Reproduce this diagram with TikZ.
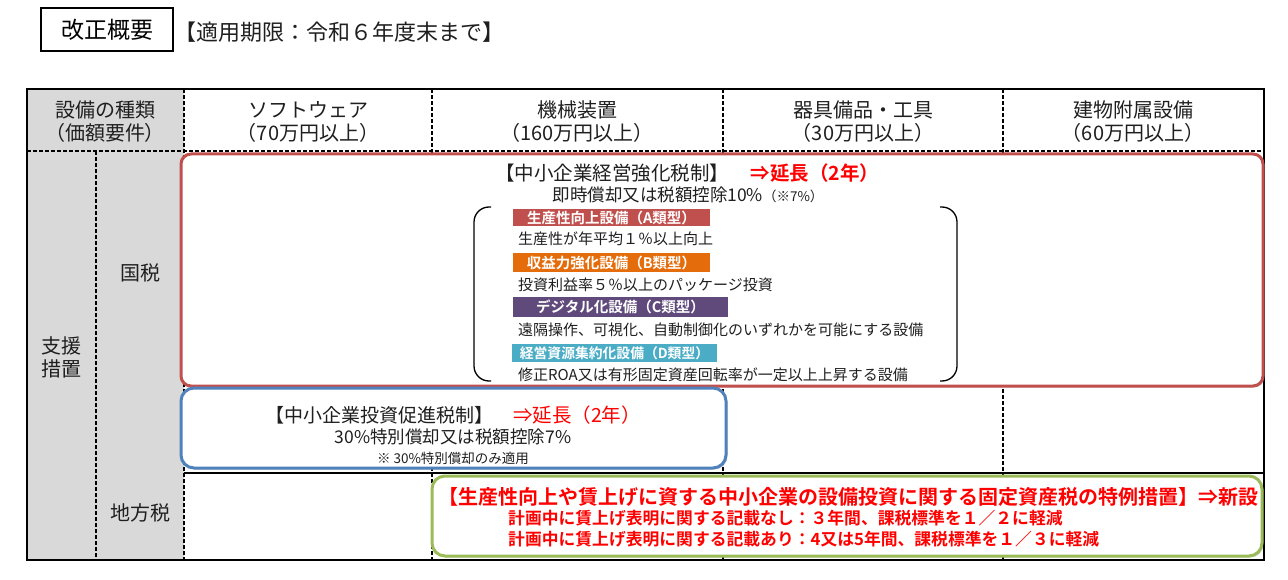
\documentclass[tikz,border=0pt]{standalone}
\usepackage{fontspec}
\setmainfont{Noto Sans CJK JP}[BoldFont={Noto Sans CJK JP Bold}]
\usetikzlibrary{positioning,shadows}
\definecolor{gridgray}{HTML}{D9D9D9}
\definecolor{boxred}{HTML}{C0504D}
\definecolor{boxblue}{HTML}{4F81BD}
\definecolor{boxgreen}{HTML}{9BBB59}
\definecolor{barorange}{HTML}{E46C0A}
\definecolor{barpurple}{HTML}{604A7B}
\definecolor{barteal}{HTML}{4BACC6}
\definecolor{alert}{HTML}{FF0000}
\newcommand{\fs}[1]{\fontsize{#1}{#1}\selectfont}
\tikzset{
  txt/.style={inner sep=0pt, text=black!88},
  hdtxt/.style={txt, font=\fontsize{20}{23}\selectfont, align=center},
  redtxt/.style={inner sep=0pt, text=alert},
  gridline/.style={line width=1.3pt, dash pattern=on 4pt off 2pt},
  frame/.style={line width=1.5pt},
  measure/.style={rounded corners=10pt, line width=3pt, fill=white,
    drop shadow={shadow xshift=1.5pt, shadow yshift=-1.5pt, opacity=0.3}},
  bar/.style={inner sep=0pt, text=white, font=\bfseries\fs{14.5}},
  desc/.style={txt, anchor=west, font=\fs{15}},
  paren/.style={line width=1.3pt, rounded corners=15pt}
}

\begin{document}
\begin{tikzpicture}[x=1pt,y=-1pt]
\useasboundingbox (0,0) rectangle (1288,580);

\node[draw, frame, minimum width=132pt, minimum height=43pt, font=\fs{23}] (title) at (107,29.5) {改正概要};
\node[txt, font=\fs{22}, right=1pt of title, yshift=-3pt] (period) {【適用期限：令和６年度末まで】};

\fill[gridgray] (27,89) rectangle (184,560);
\draw[gridline] (27,151) -- (1264,151);
\draw[gridline] (96,151) -- (96,560);
\foreach \cx in {184,432,723,1003} \draw[gridline] (\cx,89) -- (\cx,560);
\draw[frame] (184,473) -- (1264,473);
\draw[frame] (27,89) rectangle (1264,560);

\node[hdtxt] (hdkind) at (105,122) {設備の種類\\（価額要件）};
\node[hdtxt] (hdsoft) at (308,122) {ソフトウェア\\（70万円以上）};
\node[hdtxt] (hdmach) at (577,122) {機械装置\\（160万円以上）};
\node[hdtxt] (hdtool) at (863,122) {器具備品・工具\\（30万円以上）};
\node[hdtxt] (hdbldg) at (1133,122) {建物附属設備\\（60万円以上）};
\node[hdtxt] (shien) at (61,357) {支援\\措置};
\node[hdtxt] (kokuzei) at (140,273) {国税};
\node[hdtxt] (chihou) at (140,513) {地方税};

\draw[measure, draw=boxred] (181,154) rectangle (1263,386);
\draw[measure, draw=boxblue, rounded corners=13pt] (181,388) rectangle (726,468);
\draw[measure, draw=boxgreen, rounded corners=13pt] (432,476) rectangle (1262,556);

\node[txt, font=\fs{19.5}] (keiei) at (612,173) {【中小企業経営強化税制】};
\node[redtxt, font=\bfseries\fs{19.5}] (keieiext) at (815,173) {⇒延長（2年）};
\node[txt, font=\fs{17.5}] (keieirate) at (688,195) {即時償却又は税額控除10\%{\fs{13.5}（※7\%）}};
\draw[paren] (491,207) -- (474,207) -- (474,381) -- (491,381);
\draw[paren] (940,207) -- (957,207) -- (957,381) -- (940,381);
\node[bar, fill=boxred, minimum width=197pt, minimum height=17pt] (barA) at (611.5,217.5) {生産性向上設備（A類型）};
\node[desc] (descA) at (518,239) {生産性が年平均１％以上向上};
\node[bar, fill=barorange, minimum width=197pt, minimum height=19pt] (barB) at (611.5,262.5) {収益力強化設備（B類型）};
\node[desc] (descB) at (518,285) {投資利益率５％以上のパッケージ投資};
\node[bar, fill=barpurple, minimum width=215pt, minimum height=20pt] (barC) at (620.5,307) {デジタル化設備（C類型）};
\node[desc] (descC) at (518,330) {遠隔操作、可視化、自動制御化のいずれかを可能にする設備};
\node[bar, fill=barteal, minimum width=205pt, minimum height=18pt, font=\bfseries\fs{13.8}] (barD) at (614.5,353) {経営資源集約化設備（D類型）};
\node[desc] (descD) at (518,375) {修正ROA又は有形固定資産回転率が一定以上上昇する設備};

\node[txt, font=\fs{19}] (toushi) at (379,415) {【中小企業投資促進税制】};
\node[redtxt, font=\fs{19.5}] (toushiext) at (577,415) {⇒延長（2年）};
\node[txt, font=\fs{17.5}] (toushirate) at (453,437) {30\%特別償却又は税額控除7\%};
\node[txt, font=\fs{13.5}] (toushinote) at (453,458) {※ 30\%特別償却のみ適用};

\node[redtxt, font=\bfseries\fs{20}] (kotei) at (848,497) {【生産性向上や賃上げに資する中小企業の設備投資に関する固定資産税の特例措置】⇒新設};
\node[redtxt, font=\bfseries\fs{16.8}, anchor=west] (koteiA) at (508,518) {計画中に賃上げ表明に関する記載なし：３年間、課税標準を１／２に軽減};
\node[redtxt, font=\bfseries\fs{16.8}, anchor=west] (koteiB) at (508,539) {計画中に賃上げ表明に関する記載あり：4又は5年間、課税標準を１／３に軽減};
\end{tikzpicture}
\end{document}
